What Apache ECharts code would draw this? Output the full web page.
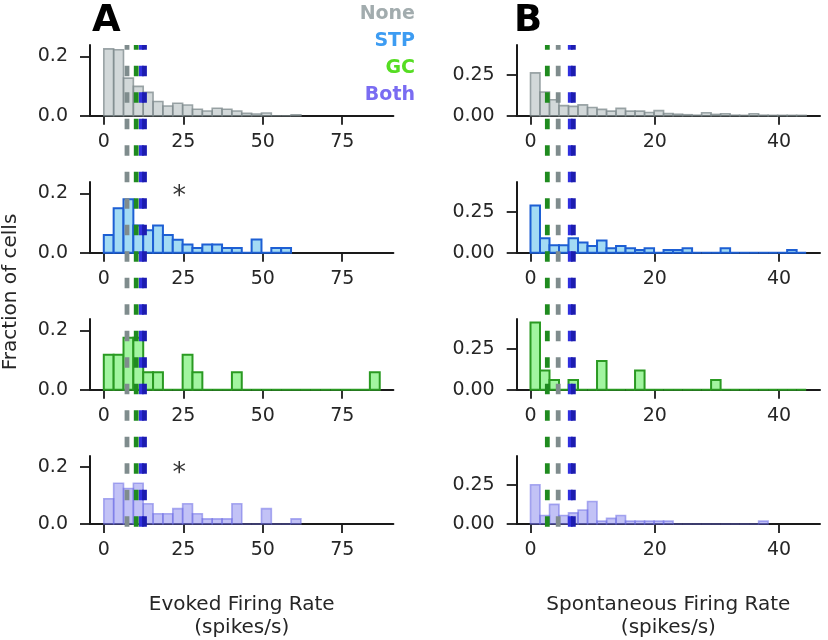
<!DOCTYPE html>
<html><head><meta charset="utf-8">
<script src="https://cdn.jsdelivr.net/npm/echarts@6/dist/echarts.min.js"></script>
<style>html,body{margin:0;padding:0;background:#fff}#c{width:828px;height:640px}</style>
</head><body><div id="c"></div>
<script>
// ---------- data ----------
const groups = ['None', 'STP', 'GC', 'Both'];
const binWidthA = 3.1;    // evoked rate bins (spikes/s)
const binWidthB = 1.53;   // spontaneous rate bins (spikes/s)
const evokedNone = [0.226,0.223,0.127,0.099,0.079,0.048,0.033,0.042,0.036,0.022,0.016,0.025,0.022,0.016,0.008,0.006,0.009,0,0,0.003];
const evokedSTP  = [0.060,0.150,0.181,0.092,0.076,0.092,0.060,0.044,0.028,0.016,0.028,0.028,0.016,0.016,0,0.045,0,0.016,0.016];
const evokedGC   = [0.118,0.118,0.176,0.176,0.059,0.059,0,0,0.118,0.059,0,0,0,0.059,0,0,0,0,0,0,0,0,0,0,0,0,0,0.059];
const evokedBoth = [0.089,0.143,0.125,0.143,0.071,0.036,0.036,0.054,0.071,0.036,0.018,0.018,0.018,0.071,0,0,0.054,0,0,0.018];
const spontNone  = [0.262,0.145,0.098,0.062,0.057,0.066,0.050,0.039,0.028,0.045,0.028,0.028,0.020,0.031,0.013,0.009,0.006,0.003,0.018,0.008,0.012,0.003,0.002,0.012,0.003,0.002,0.002,0.002,0.002];
const spontSTP   = [0.289,0.089,0.045,0.045,0.089,0.062,0.041,0.074,0.027,0.041,0.027,0.017,0.027,0,0.017,0.017,0.027,0,0,0,0.027,0,0,0,0,0,0,0.017,0];
const spontGC    = [0.412,0.118,0.059,0,0.059,0,0,0.176,0,0,0,0.118,0,0,0,0,0,0,0,0.059,0,0,0,0,0,0,0,0,0];
const spontBoth  = [0.250,0.054,0.125,0.054,0.071,0.089,0.143,0.018,0.036,0.054,0.018,0.018,0.018,0.018,0.018,0,0,0,0,0,0,0,0,0,0.018];
// medians (dashed lines), order: None, STP, GC, Both
const medianEvoked = [7.3, 11.8, 10.2, 12.8];
const medianSpont  = [4.46, 6.4, 2.71, 6.9];
const asteriskEvokedSTP  = [23.7, 0.209];
const asteriskEvokedBoth = [23.7, 0.198];
const xTicksA = [0, 25, 50, 75];
const xTicksB = [0, 20, 40];
const yTicksA = [0, 0.2];
const yTicksB = [0, 0.25];
const xRangeA = [-4.34, 91.1];
const xRangeB = [-2.22, 46.6];
const yMaxA = 0.239;
const yMaxB = 0.433;

// ---------- styles ----------
const FONT = 'DejaVu Sans';
const TXT = '#262626';
const legendColors = { None: '#a2acae', STP: '#3d9cf2', GC: '#55dd22', Both: '#7a6cf2' };
const barStyles = {
  None: { fill: 'rgba(165,177,179,0.5)', stroke: 'rgba(125,138,140,0.75)', lw: 1.6 },
  STP:  { fill: '#a3dbf4', stroke: '#1d5fd4', lw: 2 },
  GC:   { fill: '#a2f5a0', stroke: '#2a9a22', lw: 2 },
  Both: { fill: 'rgba(120,120,235,0.45)', stroke: 'rgba(110,110,230,0.55)', lw: 1.6 }
};
const medianColors = ['#7f8c8d', '#3030de', '#1f8b1f', '#1c1cb0'];

const rowTops = [45, 182, 319, 456];
const rowH = 70.7;
const leftA = 90, widthA = 303.4, leftB = 516.7, widthB = 303.3;

function histData(h, w) { return h.map((v, i) => [i * w, (i + 1) * w, v]); }

const grids = [], xAxes = [], yAxes = [], series = [];
const cols = [
  { left: leftA, width: widthA, xr: xRangeA, xt: xTicksA, yt: yTicksA, ymax: yMaxA, dec: 1, bw: binWidthA,
    data: [evokedNone, evokedSTP, evokedGC, evokedBoth], name: 'Evoked Firing Rate\n(spikes/s)', med: medianEvoked },
  { left: leftB, width: widthB, xr: xRangeB, xt: xTicksB, yt: yTicksB, ymax: yMaxB, dec: 2, bw: binWidthB,
    data: [spontNone, spontSTP, spontGC, spontBoth], name: 'Spontaneous Firing Rate\n(spikes/s)', med: medianSpont }
];

cols.forEach((c, ci) => {
  for (let r = 0; r < 4; r++) {
    const gi = grids.length;
    grids.push({ left: c.left, width: c.width, top: rowTops[r], height: rowH });
    xAxes.push({
      gridIndex: gi, type: 'value', min: c.xr[0], max: c.xr[1],
      axisLine: { show: true, onZero: false, lineStyle: { color: '#1a1a1a', width: 2 } },
      axisTick: { show: true, length: 9, customValues: c.xt, lineStyle: { color: '#1a1a1a', width: 1.8 } },
      axisLabel: { customValues: c.xt, fontSize: 19, fontFamily: FONT, color: TXT, margin: 17 },
      splitLine: { show: false },
      name: r === 3 ? c.name : '', nameLocation: 'middle', nameGap: 69,
      nameTextStyle: { fontSize: 20, fontFamily: FONT, color: TXT, lineHeight: 23 }
    });
    yAxes.push({
      gridIndex: gi, type: 'value', min: 0, max: c.ymax,
      axisLine: { show: true, onZero: false, lineStyle: { color: '#1a1a1a', width: 2 } },
      axisTick: { show: true, length: 10, customValues: c.yt, lineStyle: { color: '#1a1a1a', width: 1.8 } },
      axisLabel: { customValues: c.yt, fontSize: 19, fontFamily: FONT, color: TXT, margin: 22,
                   formatter: v => Number(v).toFixed(c.dec) },
      splitLine: { show: false }
    });
    const g = groups[r], st = barStyles[g];
    series.push({
      type: 'custom', name: g, xAxisIndex: gi, yAxisIndex: gi,
      data: histData(c.data[r], c.bw),
      encode: { x: [0, 1], y: 2 },
      itemStyle: { color: st.stroke },
      renderItem: (params, api) => {
        const p0 = api.coord([api.value(0), 0]);
        const p1 = api.coord([api.value(1), api.value(2)]);
        return { type: 'rect',
          shape: { x: p0[0], y: p1[1], width: p1[0] - p0[0], height: p0[1] - p1[1] },
          style: { fill: st.fill, stroke: st.stroke, lineWidth: st.lw } };
      },
      z: 3
    });
  }
});

// overlay grids for dashed median lines spanning each column
cols.forEach((c, ci) => {
  const gi = grids.length;
  grids.push({ left: c.left, width: c.width, top: 45, height: 526.7 - 45 });
  xAxes.push({ gridIndex: gi, type: 'value', min: c.xr[0], max: c.xr[1], show: false });
  yAxes.push({ gridIndex: gi, type: 'value', min: 0, max: 1, show: false });
  c.med.forEach((m, k) => {
    series.push({
      type: 'line', name: groups[k] + ' median', xAxisIndex: gi, yAxisIndex: gi,
      data: [[m, 0], [m, 1]], symbol: 'none', silent: true, animation: false,
      lineStyle: { color: medianColors[k], width: 4.8, type: [10.5, 16], cap: 'butt' },
      z: 6
    });
  });
});

// asterisks
[[1, asteriskEvokedSTP], [3, asteriskEvokedBoth]].forEach(([gi, pt]) => {
  series.push({
    type: 'scatter', xAxisIndex: gi, yAxisIndex: gi, data: [pt], symbol: 'circle', symbolSize: 1,
    itemStyle: { color: 'rgba(0,0,0,0)' }, silent: true,
    label: { show: true, formatter: '*', position: 'inside', offset: [0, 6],
             fontSize: 27, fontFamily: FONT, color: '#000' },
    z: 7
  });
});

const chart = echarts.init(document.getElementById('c'), null, { renderer: 'canvas' });
chart.setOption({
  animation: false,
  backgroundColor: '#fff',
  grid: grids, xAxis: xAxes, yAxis: yAxes, series: series,
  legend: {
    data: groups.map(g => ({ name: g, textStyle: { color: legendColors[g] } })),
    orient: 'vertical', align: 'right', right: 408, top: 5, padding: 0,
    icon: 'none', itemWidth: 0, itemHeight: 10, itemGap: 8, selectedMode: false,
    textStyle: { fontSize: 19, fontWeight: 'bold', fontFamily: FONT, lineHeight: 19 }
  },
  graphic: [
    { type: 'text', left: 92, top: 3, style: { text: 'A', font: 'bold 37px "DejaVu Sans"', fill: '#000' } },
    { type: 'text', left: 514, top: 3, style: { text: 'B', font: 'bold 37px "DejaVu Sans"', fill: '#000' } },
    { type: 'text', x: 11, y: 292, rotation: Math.PI / 2,
      style: { text: 'Fraction of cells', fontSize: 20, fontFamily: FONT, fill: TXT, align: 'center', verticalAlign: 'middle' } }
  ]
});
</script></body></html>
